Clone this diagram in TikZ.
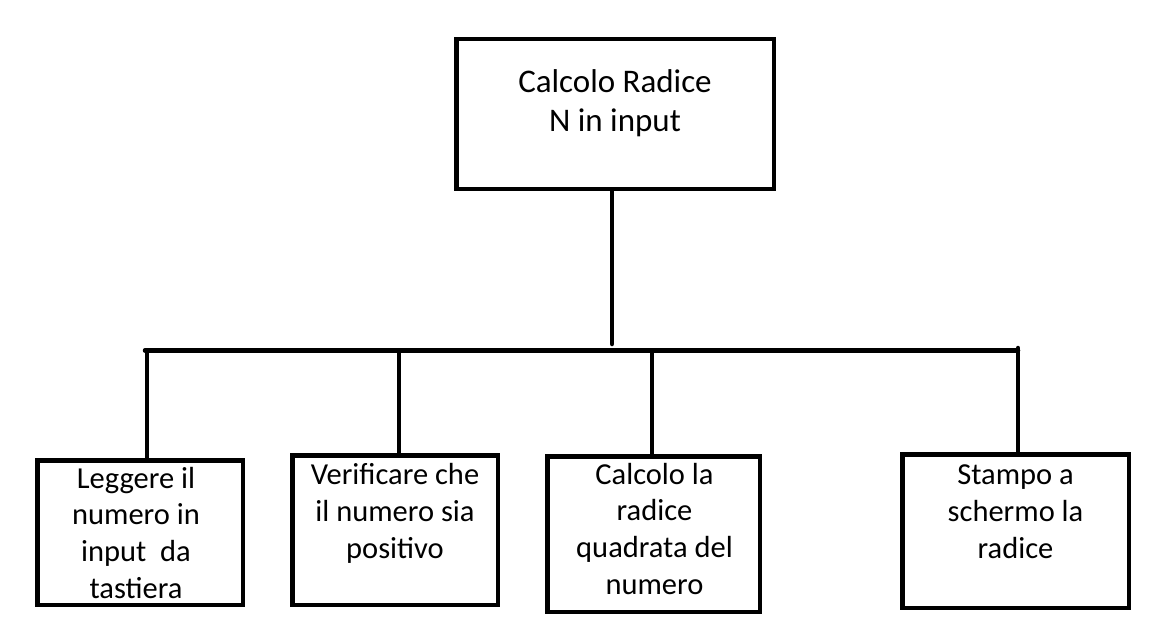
\documentclass[tikz,border=0pt]{standalone}
\usepackage{fontspec}
\setmainfont{Carlito}
\usetikzlibrary{positioning}

\begin{document}
\begin{tikzpicture}[x=1pt,y=-1pt,
	box/.style={draw, line width=4.5pt, inner sep=0pt},
	txt/.style={align=center, inner sep=0pt, font=\fontsize{30.5}{36.8}\selectfont},
	wire/.style={line width=4.5pt, line cap=round}]
	\useasboundingbox (0,0) rectangle (1172,642);
	% boxes
	\node[box, minimum width=317.5pt, minimum height=149.5pt] (radice) at (615,114) {};
	\node[box, minimum width=205.5pt, minimum height=144.5pt] (leggi) at (140,532.5) {};
	\node[box, minimum width=205.5pt, minimum height=149.5pt] (verifica) at (395,530) {};
	\node[box, minimum width=212.5pt, minimum height=155.5pt] (calcolo) at (653.5,534) {};
	\node[box, minimum width=226.5pt, minimum height=153.5pt] (stampa) at (1015.5,531) {};
	% texts (base = last line)
	\node[txt, font=\fontsize{33}{39}\selectfont, below=94.5pt of radice.north, anchor=base] (radice txt) {Calcolo Radice\\N in input};
	\node[txt, below=140.5pt of leggi.north, anchor=base, xshift=-4pt] (leggi txt) {Leggere il\\numero in\\input\ \ da\\tastiera};
	\node[txt, below=105.5pt of verifica.north, anchor=base] (verifica txt) {Verificare che\\il numero sia\\positivo};
	\node[txt, below=140.5pt of calcolo.north, anchor=base, xshift=1pt] (calcolo txt) {Calcolo la\\radice\\quadrata del\\numero};
	\node[txt, below=106pt of stampa.north, anchor=base] (stampa txt) {Stampo a\\schermo la\\radice};
	% tree
	\coordinate (stem) at (612,344);
	\coordinate (tl) at (145,350.5);
	\coordinate (d1) at (147,350.5);
	\coordinate (d2) at (399,350.5);
	\coordinate (d3) at (652,350.5);
	\coordinate (d4) at (1018,348);
	\draw[wire] (stem |- radice.south) -- (stem);
	\draw[wire] (tl) -- (tl -| d4);
	\draw[wire] (d1) -- (d1 |- leggi.north);
	\draw[wire] (d2) -- (d2 |- verifica.north);
	\draw[wire] (d3) -- (d3 |- calcolo.north);
	\draw[wire] (d4) -- (d4 |- stampa.north);
\end{tikzpicture}
\end{document}
